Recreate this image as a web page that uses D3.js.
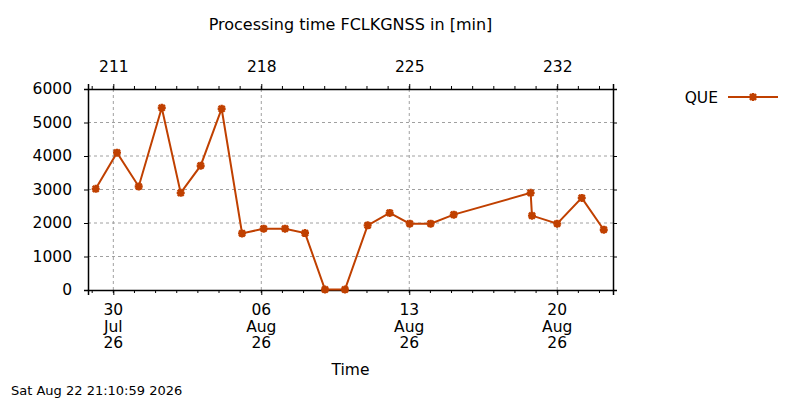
<html>
  <head>
    <meta charset="utf-8"/>
    <style>
      body {
        margin: 0;
        background: white;
      }
      text {
        font-family: "DejaVu Sans", sans-serif;
        fill: #000;
      }
      .grid line {
        stroke: #a0a0a0;
        stroke-dasharray: 3,3;
      }
    </style>
    <script src="https://d3js.org/d3.v7.min.js"></script>
  </head>
  <body>
    <script>
    var width = 800, height = 400;
    var color = "#c04000";

    // processing runs (UTC) and their duration
    var times = [
      "2026-07-29T04:00", "2026-07-30T04:10", "2026-07-31T04:50", "2026-08-01T07:00",
      "2026-08-02T04:30", "2026-08-03T03:10", "2026-08-04T03:00", "2026-08-05T02:10",
      "2026-08-06T02:40", "2026-08-07T03:00", "2026-08-08T01:40", "2026-08-09T00:20",
      "2026-08-09T23:00", "2026-08-11T00:45", "2026-08-12T01:45", "2026-08-13T00:30",
      "2026-08-14T00:15", "2026-08-15T02:30", "2026-08-18T17:50", "2026-08-18T19:20",
      "2026-08-20T00:00", "2026-08-21T03:50", "2026-08-22T04:50"
    ];
    var que = [
      3020, 4100, 3090, 5440, 2900, 3710, 5410, 1690,
      1830, 1830, 1700, 15, 15, 1930, 2300, 1980,
      1980, 2250, 2900, 2220, 1980, 2750, 1800
    ];
    var yTicks = [0, 1000, 2000, 3000, 4000, 5000, 6000];
    var xRange = ["2026-07-28T19:15", "2026-08-22T15:20"];
    var xMajor = ["2026-07-30", "2026-08-06", "2026-08-13", "2026-08-20"];

    var parse = d3.utcParse("%Y-%m-%dT%H:%M");
    var parseDay = d3.utcParse("%Y-%m-%d");
    var data = times.map((t, i) => ({date: parse(t), value: que[i]}));
    var majors = xMajor.map(parseDay);

    var pLeft = 88, pRight = 613, pTop = 89, pBottom = 290;
    var fs = 15.5;

    var x = d3.scaleUtc().domain(xRange.map(parse)).range([pLeft, pRight]);
    var y = d3.scaleLinear().domain([0, 6000]).range([pBottom, pTop]);

    var svg = d3.select("body").append("svg")
      .attr("width", width).attr("height", height);
    svg.append("rect").attr("width", width).attr("height", height).attr("fill", "white");

    // grid
    var grid = svg.append("g").attr("class", "grid");
    grid.selectAll(".gy").data(yTicks.slice(1, -1)).enter().append("line")
      .attr("x1", pLeft).attr("x2", pRight)
      .attr("y1", d => y(d)).attr("y2", d => y(d));
    grid.selectAll(".gx").data(majors).enter().append("line")
      .attr("x1", d => x(d)).attr("x2", d => x(d))
      .attr("y1", pTop).attr("y2", pBottom);

    var days = d3.utcDay.range(x.domain()[0], x.domain()[1]);
    var fmtB = d3.utcFormat("%d"), fmtM = d3.utcFormat("%b"), fmtY = d3.utcFormat("%y");
    var doy = d3.utcFormat("%j");

    // bottom axis
    var xb = svg.append("g").attr("transform", "translate(0," + pBottom + ")")
      .call(d3.axisBottom(x).tickValues(majors).tickSizeOuter(0).tickSize(5).tickFormat(""));
    xb.selectAll(".minor").data(days).enter().append("line")
      .attr("x1", d => x(d)).attr("x2", d => x(d)).attr("y1", 0).attr("y2", 3)
      .attr("stroke", "black");
    majors.forEach(function(d) {
      var t = xb.append("text").attr("text-anchor", "middle").attr("font-size", fs)
        .attr("x", x(d)).attr("y", 25);
      t.append("tspan").attr("x", x(d)).text(fmtB(d));
      t.append("tspan").attr("x", x(d)).attr("dy", 16.7).text(fmtM(d));
      t.append("tspan").attr("x", x(d)).attr("dy", 16.7).text(fmtY(d));
    });

    // top axis (day of year)
    var xt = svg.append("g").attr("transform", "translate(0," + pTop + ")")
      .call(d3.axisTop(x).tickValues(majors).tickSizeOuter(0).tickSize(5).tickPadding(12)
        .tickFormat(d => String(+doy(d))));
    xt.selectAll(".minor").data(days).enter().append("line")
      .attr("x1", d => x(d)).attr("x2", d => x(d)).attr("y1", 0).attr("y2", -3)
      .attr("stroke", "black");

    // left / right axes
    svg.append("g").attr("transform", "translate(" + pLeft + ",0)")
      .call(d3.axisLeft(y).tickValues(yTicks).tickSizeOuter(0).tickSize(4).tickPadding(12)
        .tickFormat(d3.format("d")));
    svg.append("g").attr("transform", "translate(" + pRight + ",0)")
      .call(d3.axisRight(y).tickValues(yTicks).tickSizeOuter(0).tickSize(4).tickFormat(""));

    svg.selectAll(".tick text").attr("font-size", fs).attr("font-family", "DejaVu Sans").attr("fill", "black");
    svg.selectAll(".domain").attr("stroke", "black").attr("stroke-width", 1.5);

    // series
    var line = d3.line().x(d => x(d.date)).y(d => y(d.value));
    svg.append("path").datum(data).attr("d", line)
      .attr("fill", "none").attr("stroke", color).attr("stroke-width", 2);

    function star(g) {
      g.append("path")
        .attr("d", "M-4,0H4M0,-4V4M-3,-3L3,3M-3,3L3,-3")
        .attr("stroke", color).attr("stroke-width", 2.4).attr("fill", "none");
    }
    svg.selectAll(".pt").data(data).enter().append("g")
      .attr("transform", d => "translate(" + x(d.date) + "," + y(d.value) + ")")
      .each(function() { star(d3.select(this)); });

    // legend
    svg.append("text").attr("x", 718).attr("y", 103).attr("text-anchor", "end")
      .attr("font-size", fs).text("QUE");
    svg.append("line").attr("x1", 728).attr("x2", 778).attr("y1", 97).attr("y2", 97)
      .attr("stroke", color).attr("stroke-width", 2);
    star(svg.append("g").attr("transform", "translate(753,97)"));

    // titles
    svg.append("text").attr("x", (pLeft + pRight) / 2).attr("y", 30).attr("text-anchor", "middle")
      .attr("font-size", 16).text("Processing time FCLKGNSS in [min]");
    svg.append("text").attr("x", (pLeft + pRight) / 2).attr("y", 375).attr("text-anchor", "middle")
      .attr("font-size", fs).text("Time");
    svg.append("text").attr("x", 11).attr("y", 395)
      .attr("font-size", 13).text("Sat Aug 22 21:10:59 2026");
    </script>
  </body>
</html>
